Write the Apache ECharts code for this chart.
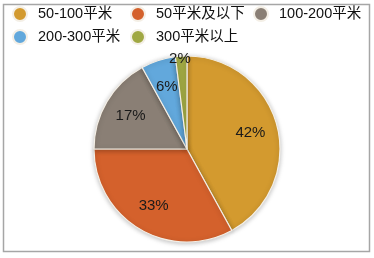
<!DOCTYPE html>
<html><head><meta charset="utf-8">
<script src="https://cdn.jsdelivr.net/npm/echarts@6/dist/echarts.min.js"></script>
<style>html,body{margin:0;padding:0;background:#fff}#c{width:374px;height:258px}</style>
</head><body><div id="c"></div>
<script>
const categories = ['50-100平米', '50平米及以下', '100-200平米', '200-300平米', '300平米以上'];
const values = [42, 33, 17, 6, 2];
const colors = ['#D39A2F', '#D4612C', '#8A7F75', '#62A8DC', '#A0A843'];
const legendCols = [[categories[0], categories[3]], [categories[1], categories[4]], [categories[2]]];

const FONT = "'Liberation Sans', 'Noto Sans CJK SC', sans-serif";
const data = categories.map((c, i) => ({ name: c, value: values[i], itemStyle: { color: colors[i] } }));
const colLeft = [12, 130, 253];
const chart = echarts.init(document.getElementById('c'), null, { renderer: 'canvas' });
chart.setOption({
  animation: false,
  color: colors,
  legend: legendCols.map((d, k) => ({
    data: d, orient: 'vertical', left: colLeft[k], top: 6,
    icon: 'circle', itemWidth: 14, itemHeight: 14, itemGap: 7,
    textStyle: { fontSize: 14.5, fontFamily: FONT, color: '#111', padding: [0, 0, 0, 6] },
    padding: 0, selectedMode: false
  })),
  graphic: [{
    type: 'rect', shape: { x: 3.5, y: 4.5, width: 366, height: 247 },
    style: { fill: 'none', stroke: '#a6a6a6', lineWidth: 1.5 }, silent: true, z: -1
  }],
  series: [{
    type: 'pie', center: [187, 149], radius: 93, startAngle: 90, clockwise: true,
    data: data, label: { show: false }, labelLine: { show: false },
    itemStyle: { borderColor: '#f4efe6', borderWidth: 1.2, shadowBlur: 5, shadowColor: 'rgba(0,0,0,0.25)', shadowOffsetY: 1 },
    emphasis: { disabled: true }
  }, {
    type: 'pie', center: [187, 149], radius: 125, startAngle: 90, clockwise: true, silent: true,
    data: data.map(d => ({ name: d.name, value: d.value, itemStyle: { color: 'rgba(0,0,0,0)' } })),
    itemStyle: { borderWidth: 0 },
    label: { show: true, position: 'inside', formatter: '{c}%', fontSize: 15, fontFamily: FONT, color: '#1a1a1a' },
    labelLine: { show: false },
    labelLayout: function (p) { return p.dataIndex === 4 ? { dx: -3, dy: -25 } : {}; },
    emphasis: { disabled: true }
  }]
});
</script></body></html>
